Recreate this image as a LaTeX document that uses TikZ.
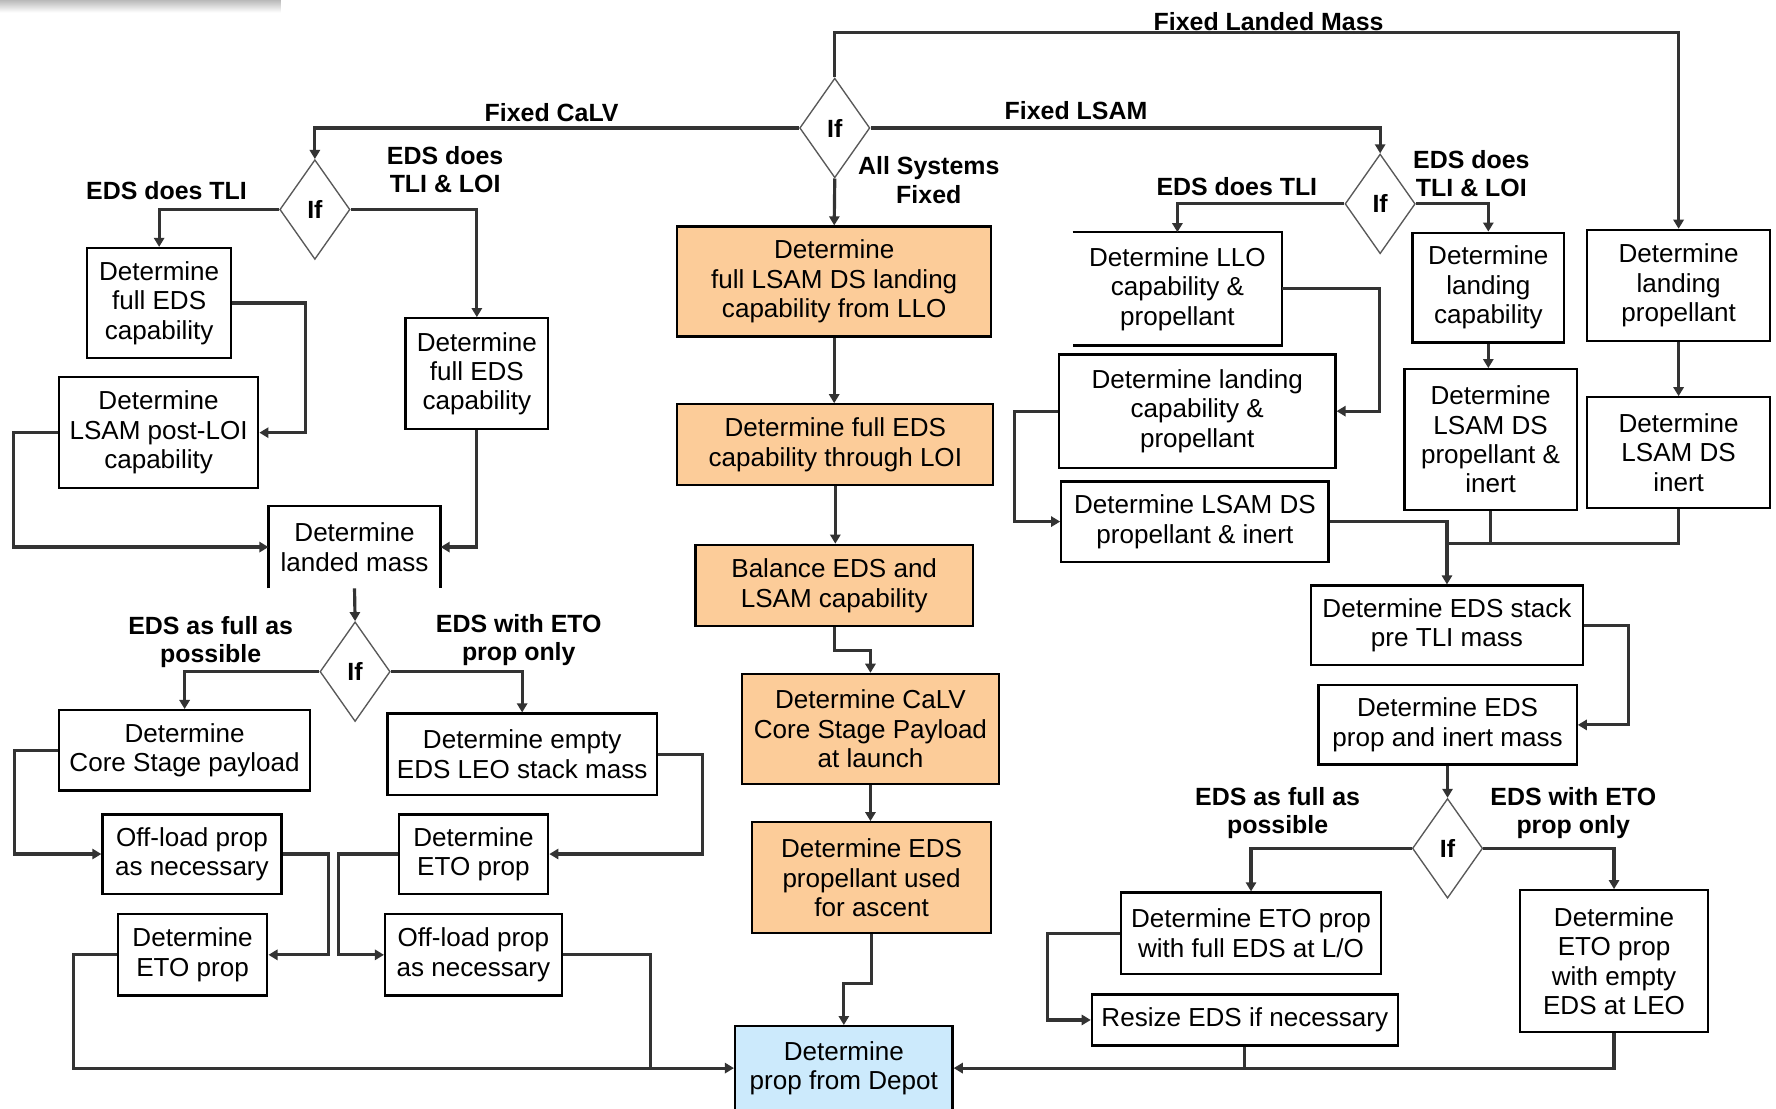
\documentclass[tikz,border=0pt]{standalone}
\usepackage{fontspec}
\setmainfont{Liberation Sans}
\usetikzlibrary{shapes.geometric,arrows.meta}
\definecolor{calcorange}{RGB}{252,204,153}
\definecolor{depotblue}{RGB}{204,234,252}
\tikzset{
  proc/.style={draw=black, line width=1pt, fill=white, align=center, inner sep=0pt,
    font=\fontsize{11.5}{13}\selectfont},
  calcbox/.style={proc, fill=calcorange},
  depotbox/.style={proc, fill=depotblue},
  openbox/.style={proc, draw=none},
  test/.style={diamond, draw=black!65, line width=0.6pt, fill=white, inner sep=0pt,
    minimum width=31pt, minimum height=44pt, font=\fontsize{11}{12}\selectfont\bfseries},
  lbl/.style={align=center, inner sep=0pt, font=\fontsize{11}{12.5}\selectfont\bfseries},
  flow/.style={line width=1.4pt, draw=black!80},
  arr/.style={flow, -{Triangle[length=4pt,width=4.5pt]}},
}
\begin{document}
\begin{tikzpicture}[x=0.5pt,y=-0.5pt]
        \useasboundingbox (0,0) rectangle (1568,979);

        % shadow strip
        \shade[top color=gray!55, bottom color=white] (0,0) rectangle (248,11);

        % decisions
        \node[test] (ifA) at (737,113) {If};
        \node[test] (ifB) at (278,185) {If};
        \node[test] (ifC) at (313.5,593) {If};
        \node[test] (ifD) at (1218.5,180) {If};
        \node[test] (ifE) at (1278,749) {If};

        % centre column
        \node[calcbox, minimum width=138.5pt, minimum height=48.5pt] (C1) at (736.5,248.5) {Determine\\full LSAM DS landing\\capability from LLO};
        \node[calcbox, minimum width=139.5pt, minimum height=35.5pt] (C2) at (737.5,392.5) {Determine full EDS\\capability through LOI};
        \node[calcbox, minimum width=122.5pt, minimum height=36pt] (C3) at (736.5,517) {Balance EDS and\\LSAM capability};
        \node[calcbox, minimum width=113.5pt, minimum height=48.5pt] (C4) at (768.5,643.5) {Determine CaLV\\Core Stage Payload\\at launch};
        \node[calcbox, minimum width=105.5pt, minimum height=49pt] (C5) at (769.5,775) {Determine EDS\\propellant used\\for ascent};
        \node[depotbox, minimum width=96pt, minimum height=37pt] (Depot) at (745,943) {Determine\\prop from Depot};

        % fixed CaLV side
        \node[proc, minimum width=63.5pt, minimum height=48.5pt] (A1) at (140.5,267.5) {Determine\\full EDS\\capability};
        \node[proc, minimum width=88pt, minimum height=49pt] (A2) at (140,382) {Determine\\LSAM post-LOI\\capability};
        \node[proc, minimum width=63pt, minimum height=49pt] (A3) at (421,330) {Determine\\full EDS\\capability};
        \node[openbox, minimum width=75pt, minimum height=35.5pt] (LM) at (313,483) {Determine\\landed mass};
        \draw[line width=1pt] (LM.south west) -- (LM.north west) -- (LM.north east) -- (LM.south east);
        \node[proc, minimum width=111pt, minimum height=35.5pt] (B1) at (163,662.5) {Determine\\Core Stage payload};
        \node[proc, minimum width=119pt, minimum height=36pt] (B2) at (461,666) {Determine empty\\EDS LEO stack mass};
        \node[proc, minimum width=79pt, minimum height=35pt] (B3) at (169.5,754) {Off-load prop\\as necessary};
        \node[proc, minimum width=66pt, minimum height=36pt] (B4) at (170,843) {Determine\\ETO prop};
        \node[proc, minimum width=66pt, minimum height=35pt] (B5) at (418,754) {Determine\\ETO prop};
        \node[proc, minimum width=78pt, minimum height=36pt] (B6) at (418,843) {Off-load prop\\as necessary};

        % fixed LSAM side
        \node[openbox, minimum width=91.5pt, minimum height=49pt] (D1) at (1039.5,255) {Determine LLO\\capability \&\\propellant};
        \draw[line width=1pt] (D1.north west) -- (D1.north east) -- (D1.south east) -- (D1.south west);
        \node[proc, minimum width=122pt, minimum height=50pt] (D2) at (1057,363) {Determine landing\\capability \&\\propellant};
        \node[proc, minimum width=118pt, minimum height=35.5pt] (D3) at (1055,460.5) {Determine LSAM DS\\propellant \& inert};
        \node[proc, minimum width=67pt, minimum height=48.5pt] (D4) at (1314,254) {Determine\\landing\\capability};
        \node[proc, minimum width=76pt, minimum height=62pt] (D5) at (1316,388) {Determine\\LSAM DS\\propellant \&\\inert};
        \node[proc, minimum width=81pt, minimum height=49pt] (D6) at (1482,252) {Determine\\landing\\propellant};
        \node[proc, minimum width=81pt, minimum height=48.7pt] (D7) at (1482,399.5) {Determine\\LSAM DS\\inert};
        \node[proc, minimum width=120pt, minimum height=35pt] (E1) at (1277.5,552) {Determine EDS stack\\pre TLI mass};
        \node[proc, minimum width=114pt, minimum height=35pt] (E2) at (1278,640) {Determine EDS\\prop and inert mass};
        \node[proc, minimum width=114.5pt, minimum height=36pt] (F1) at (1104.5,824) {Determine ETO prop\\with full EDS at L/O};
        \node[proc, minimum width=135pt, minimum height=22.5pt] (F2) at (1099,900.5) {Resize EDS if necessary};
        \node[proc, minimum width=83pt, minimum height=62.5pt] (F3) at (1425,848.5) {Determine\\ETO prop\\with empty\\EDS at LEO};

        % joints
        \coordinate (jL) at (574,943);
        \coordinate (jR) at (1277.5,480);

        % labels
        \node[lbl] (lFLM) at (1120,19) {Fixed Landed Mass};
        \node[lbl] (lFC) at (487,99) {Fixed CaLV};
        \node[lbl] (lFL) at (950,98) {Fixed LSAM};
        \node[lbl] (lASF) at (820,159) {All Systems\\Fixed};
        \node[lbl] (lB1) at (147,168) {EDS does TLI};
        \node[lbl] (lB2) at (393,150) {EDS does\\TLI \& LOI};
        \node[lbl] (lD1) at (1092,165) {EDS does TLI};
        \node[lbl] (lD2) at (1299,153) {EDS does\\TLI \& LOI};
        \node[lbl] (lC1) at (186,567) {EDS as full as\\possible};
        \node[lbl] (lC2) at (458,565) {EDS with ETO\\prop only};
        \node[lbl] (lE1) at (1128,718) {EDS as full as\\possible};
        \node[lbl] (lE2) at (1389,718) {EDS with ETO\\prop only};

        % top branches
        \draw[arr] (ifA.north) -- ++(0,-39.5) -| (D6.north);
        \draw[arr] (ifA.west) -| (ifB.north);
        \draw[arr] (ifA.east) -| (ifD.north);
        \draw[arr] (ifA.south) -- (C1.north);

        % centre flow
        \draw[arr] (C1.south) -- (C1.south |- C2.north);
        \draw[arr] (C2.south) -- (C2.south |- C3.north);
        \draw[arr] (C3.south) -- ++(0,20) -| (C4.north);
        \draw[arr] (C4.south) -- (C4.south |- C5.north);
        \draw[arr] (C5.south) -- ++(0,43) -| (Depot.north);

        % CaLV flow
        \draw[arr] (ifB.west) -| (A1.north);
        \draw[arr] (ifB.east) -| (A3.north);
        \draw[arr] (A1.east) -- ++(65,0) |- (A2.east);
        \draw[arr] (A2.west) -- ++(-39,0) |- (LM.west);
        \draw[arr] (A3.south) |- (LM.east);
        \draw[arr] (LM.south) -- (ifC.north);
        \draw[arr] (ifC.west) -| (B1.north);
        \draw[arr] (ifC.east) -| (B2.north);
        \draw[arr] (B1.west) -- ++(-38,0) |- (B3.west);
        \draw[arr] (B3.east) -- ++(40.5,0) |- (B4.east);
        \draw[arr] (B2.east) -- ++(39,0) |- (B5.east);
        \draw[arr] (B5.west) -- ++(-52.5,0) |- (B6.west);
        \draw[arr] (B4.west) -- ++(-38,0) |- (Depot.west);
        \draw[flow] (B6.east) -| (jL);

        % LSAM flow
        \draw[arr] (ifD.west) -| (D1.north);
        \draw[arr] (ifD.east) -| (D4.north);
        \draw[arr] (D1.east) -- ++(86,0) |- (D2.east);
        \draw[arr] (D2.west) -- ++(-38,0) |- (D3.west);
        \draw[arr] (D4.south) -- (D4.south |- D5.north);
        \draw[arr] (D6.south) -- (D7.north);
        \draw[flow] (D5.south) |- (jR);
        \draw[flow] (D7.south) |- (jR);
        \draw[arr] (D3.east) -| (E1.north);
        \draw[arr] (E1.east) -- ++(39,0) |- (E2.east);
        \draw[arr] (E2.south) -- (ifE.north);
        \draw[arr] (ifE.west) -| (F1.north);
        \draw[arr] (ifE.east) -| (F3.north);
        \draw[arr] (F1.west) -- ++(-64,0) |- (F2.west);
        \draw[arr] (F3.south) |- (Depot.east);
        \draw[flow] (F2.south) -- (F2.south |- Depot.east);
\end{tikzpicture}
\end{document}
